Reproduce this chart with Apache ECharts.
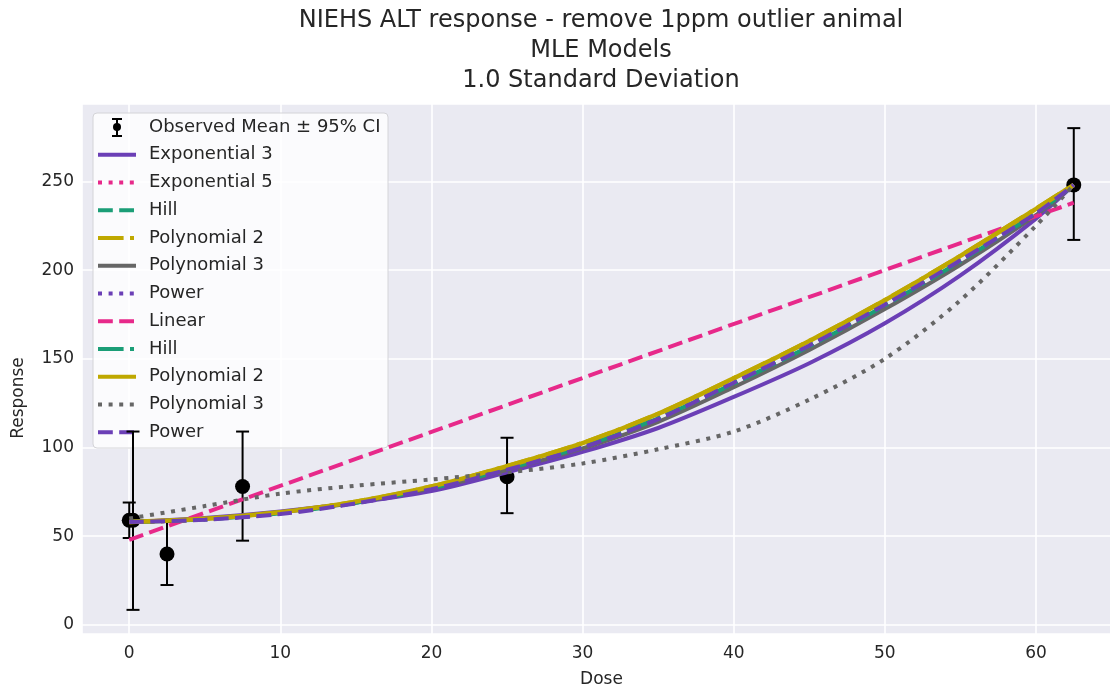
<!DOCTYPE html>
<html>
<head>
<meta charset="utf-8">
<script src="https://cdn.jsdelivr.net/npm/echarts@6/dist/echarts.min.js"></script>
<style>
  html, body { margin: 0; padding: 0; background: #ffffff; }
  #chart { width: 1110px; height: 690px; }
</style>
</head>
<body>
<div id="chart"></div>
<script>
// chart text
const titleLines = [
  "NIEHS ALT response - remove 1ppm outlier animal",
  "MLE Models",
  "1.0 Standard Deviation",
];
const xName = "Dose";
const yName = "Response";
const obsLabel = "Observed Mean \u00b1 95% CI";

// observed group means with 95% CI
const obsDose = [0, 0.25, 2.5, 7.5, 25, 62.5];
const obsMean = [59, 59, 40, 78, 83.5, 248];
const obsLower = [49, 8.5, 22.5, 47.5, 63, 217];
const obsUpper = [69, 109, 58, 109, 105.5, 280];

// model curves at these doses
const curveDose = [0, 5, 10, 15, 20, 25, 30, 35, 40, 45, 50, 55, 60, 62.5];
const exp3 = [58, 60.3, 64, 69, 75.5, 86, 97.5, 111, 128.5, 147.5, 170, 197, 229, 248];
const exp5 = [58, 59.5, 63, 68.8, 77, 88, 100.5, 116.5, 136, 157, 180, 205, 232, 248];
const hill = [58, 59.5, 63, 68.8, 77, 88, 100.5, 116.5, 136, 157, 180, 205, 232, 248];
const poly2 = [58, 59.8, 63.5, 69.5, 78, 89.5, 102.5, 119, 139, 160, 183, 208, 234.5, 248];
const poly3 = [58, 59.8, 63.5, 69, 77, 87.5, 99.5, 114.5, 134, 155, 178, 203, 231, 248];
const power = [58, 59.5, 63, 68.8, 77, 88, 100.5, 116.5, 136.5, 157.5, 180.5, 205.5, 232, 248];
const hillB = [58, 59.5, 63, 68.8, 77, 88, 100.5, 116.5, 136, 157, 180, 205, 232, 248];
const poly2B = [58, 59.8, 63.5, 69.5, 78, 89.5, 102.5, 119, 139, 160, 183, 208, 234.5, 248];
const poly3B = [60, 67, 74, 78.5, 82, 86, 91, 99, 109, 127, 150, 183, 225, 248];
const powerB = [58, 59.3, 62.5, 68.5, 76.5, 87.5, 100, 116, 136.5, 157.5, 180.5, 205.5, 232, 248];
const linearDose = [0, 62.5];
const linear = [48, 238];

const PURPLE = "#6b3fb6";
const PINK = "#e7298a";
const GREEN = "#1b9e77";
const YELLOW = "#bfa800";
const GREY = "#666666";
const DOT = [4, 6.6];
const DASH = [14.8, 6.4];
const DASHDOT = [25.6, 6.4, 4, 6.4];
const FONT = "DejaVu Sans";

const models = [
  { name: "Exponential 3", x: curveDose, y: exp3, color: PURPLE, dash: null },
  { name: "Exponential 5", x: curveDose, y: exp5, color: PINK, dash: DOT },
  { name: "Hill", x: curveDose, y: hill, color: GREEN, dash: DASH },
  { name: "Polynomial 2", x: curveDose, y: poly2, color: YELLOW, dash: DASHDOT },
  { name: "Polynomial 3", x: curveDose, y: poly3, color: GREY, dash: null },
  { name: "Power", x: curveDose, y: power, color: PURPLE, dash: DOT },
  { name: "Linear", x: linearDose, y: linear, color: PINK, dash: DASH },
  { name: "Hill", x: curveDose, y: hillB, color: GREEN, dash: DASHDOT },
  { name: "Polynomial 2", x: curveDose, y: poly2B, color: YELLOW, dash: null },
  { name: "Polynomial 3", x: curveDose, y: poly3B, color: GREY, dash: DOT },
  { name: "Power", x: curveDose, y: powerB, color: PURPLE, dash: DASH },
];

function zip(xs, ys) {
  return xs.map((x, i) => [x, ys[i]]);
}

function renderErrorBar(params, api) {
  const x = api.value(0);
  const lo = api.coord([x, api.value(1)]);
  const hi = api.coord([x, api.value(2)]);
  const cap = 6.5;
  const style = { stroke: "#000", lineWidth: 2 };
  return {
    type: "group",
    children: [
      { type: "line", shape: { x1: lo[0], y1: lo[1], x2: hi[0], y2: hi[1] }, style: style },
      { type: "line", shape: { x1: hi[0] - cap, y1: hi[1], x2: hi[0] + cap, y2: hi[1] }, style: style },
      { type: "line", shape: { x1: lo[0] - cap, y1: lo[1], x2: lo[0] + cap, y2: lo[1] }, style: style },
    ],
  };
}

// legend drawn by hand, because several models share a name
function buildLegend() {
  const left = 93, top = 113, rowH = 27.75, firstRow = 127;
  const iconX1 = 98, iconX2 = 136, textX = 149;
  const Z = 2;
  const items = [
    {
      type: "rect", z: Z,
      shape: { x: left, y: top, width: 295, height: 335, r: 4 },
      style: { fill: "rgba(255,255,255,0.8)", stroke: "#d4d4d8", lineWidth: 1 },
    },
  ];
  // observed icon: small error bar with dot
  const cx = (iconX1 + iconX2) / 2;
  const bar = { stroke: "#000", lineWidth: 2 };
  items.push(
    { type: "line", z: Z, shape: { x1: cx, y1: firstRow - 8, x2: cx, y2: firstRow + 9 }, style: bar },
    { type: "line", z: Z, shape: { x1: cx - 5, y1: firstRow - 8, x2: cx + 5, y2: firstRow - 8 }, style: bar },
    { type: "line", z: Z, shape: { x1: cx - 5, y1: firstRow + 9, x2: cx + 5, y2: firstRow + 9 }, style: bar },
    { type: "circle", z: Z, shape: { cx: cx, cy: firstRow, r: 4 }, style: { fill: "#000" } },
    {
      type: "text", z: Z, x: textX, y: firstRow,
      style: { text: obsLabel, font: "18px " + FONT, fill: "#262626", verticalAlign: "middle" },
    }
  );
  models.forEach((m, i) => {
    const y = firstRow + rowH * (i + 1);
    items.push(
      {
        type: "line", z: Z,
        shape: { x1: iconX1, y1: y, x2: iconX2, y2: y },
        style: { stroke: m.color, lineWidth: 4, lineDash: m.dash || null, lineCap: "butt" },
      },
      {
        type: "text", z: Z, x: textX, y: y,
        style: { text: m.name, font: "18px " + FONT, fill: "#262626", verticalAlign: "middle" },
      }
    );
  });
  return items;
}

const chart = echarts.init(document.getElementById("chart"), null, { renderer: "canvas" });

const series = [
  {
    type: "custom",
    name: obsLabel,
    renderItem: renderErrorBar,
    data: obsDose.map((d, i) => [d, obsLower[i], obsUpper[i]]),
    encode: { x: 0, y: [1, 2] },
    z: 3,
  },
  {
    type: "scatter",
    name: obsLabel,
    data: zip(obsDose, obsMean),
    symbol: "circle",
    symbolSize: 15,
    itemStyle: { color: "#000", opacity: 1 },
    z: 3,
  },
];
models.forEach((m, i) => {
  series.push({
    type: "line",
    id: "model" + i,
    name: m.name,
    data: zip(m.x, m.y),
    smooth: m.x.length > 2 ? 0.3 : false,
    symbol: "none",
    lineStyle: {
      color: m.color,
      width: m.color === YELLOW ? 4.5 : 4,
      type: m.dash || "solid",
      cap: "butt",
    },
    z: 4 + i,
  });
});

const option = {
  animation: false,
  backgroundColor: "#ffffff",
  textStyle: { fontFamily: FONT },
  grid: {
    left: 82,
    right: -11,
    top: 104,
    bottom: 56,
    show: true,
    backgroundColor: "#eaeaf2",
    borderWidth: 0,
    containLabel: false,
    outerBoundsMode: "none",
  },
  xAxis: {
    type: "value",
    min: -3.125,
    max: 65.625,
    name: xName,
    nameLocation: "middle",
    nameGap: 37,
    nameTextStyle: { fontSize: 17, color: "#262626", fontFamily: FONT },
    axisLine: { show: false },
    axisTick: { show: false },
    axisLabel: {
      fontSize: 17,
      color: "#262626",
      margin: 11,
      fontFamily: FONT,
      formatter: (v) => (Math.abs(v % 10) < 1e-9 ? String(v) : ""),
    },
    splitLine: { show: true, lineStyle: { color: "#ffffff", width: 1.6 } },
  },
  yAxis: {
    type: "value",
    min: -5.1,
    max: 293.6,
    axisLine: { show: false },
    axisTick: { show: false },
    axisLabel: {
      fontSize: 17,
      color: "#262626",
      margin: 8,
      fontFamily: FONT,
      formatter: (v) => (Math.abs(v % 50) < 1e-9 ? String(v) : ""),
    },
    splitLine: { show: true, lineStyle: { color: "#ffffff", width: 1.6 } },
  },
  graphic: [
    {
      type: "text",
      x: 601,
      y: 6,
      z: 10,
      style: {
        text: titleLines.join("\n"),
        font: "24px " + FONT,
        fill: "#262626",
        align: "center",
        lineHeight: 30,
      },
    },
    {
      type: "text",
      x: 19,
      y: 398,
      rotation: Math.PI / 2,
      z: 10,
      style: {
        text: yName,
        font: "17px " + FONT,
        fill: "#262626",
        align: "center",
        verticalAlign: "middle",
      },
    },
  ].concat(buildLegend()),
  series: series,
};

chart.setOption(option);
</script>
</body>
</html>
